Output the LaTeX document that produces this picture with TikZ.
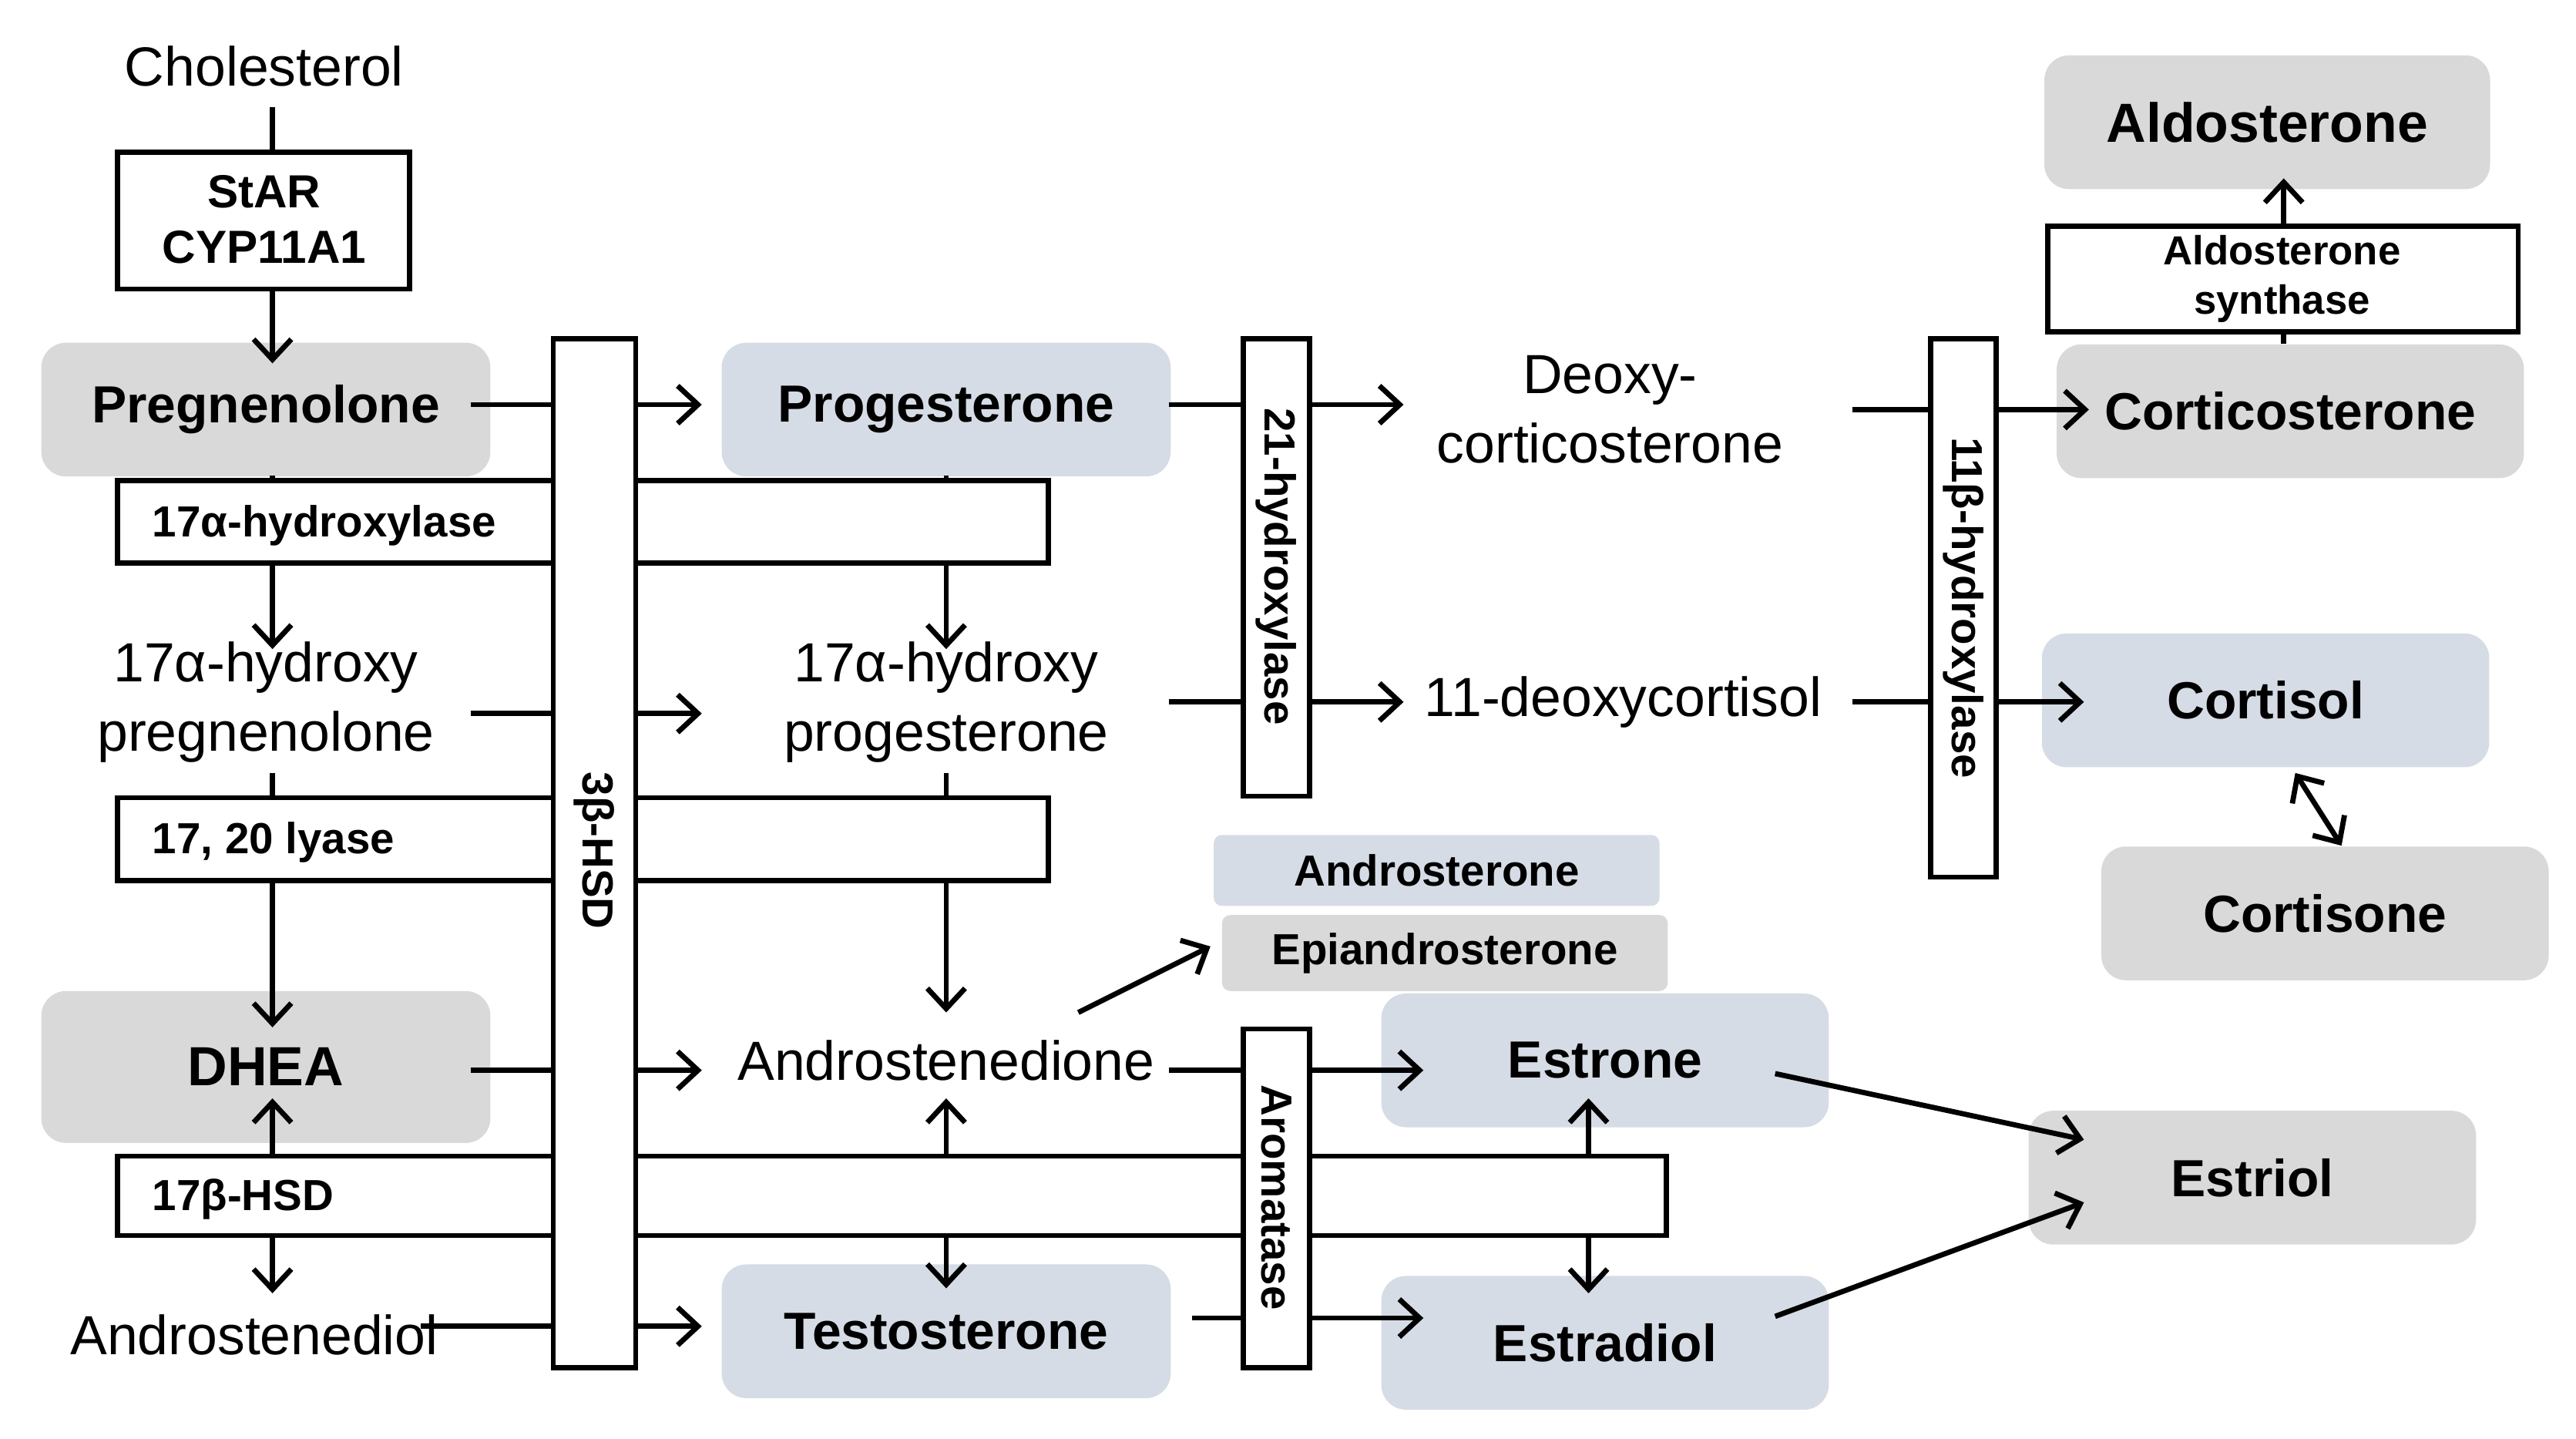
\documentclass[tikz,border=0pt]{standalone}
\usepackage{fontspec}
\setmainfont{Liberation Sans}
\usetikzlibrary{arrows.meta}
\definecolor{gfill}{RGB}{217,217,217}
\definecolor{bfill}{RGB}{214,220,229}
\begin{document}
\begin{tikzpicture}[x=0.02cm,y=-0.02cm,
  lw/.style={line width=1.8pt},
  arr/.style={lw,-{Straight Barb[length=7pt,width=13pt,line width=1.8pt]}},
  arr2/.style={lw,{Straight Barb[length=7pt,width=13pt,line width=1.8pt]}-{Straight Barb[length=7pt,width=13pt,line width=1.8pt]}},
  sbox/.style={rounded corners=0.3cm,inner sep=0,font=\fontsize{18}{20}\bfseries\selectfont,minimum width=5.44cm,minimum height=1.62cm},
  gbox/.style={sbox,fill=gfill},
  bbox/.style={sbox,fill=bfill},
  txt/.style={font=\fontsize{19}{24}\selectfont,align=center,inner sep=2pt},
  ebox/.style={draw,lw,fill=white,inner sep=0},
  elab/.style={font=\fontsize{15}{17}\bfseries\selectfont,inner sep=0},
]
\useasboundingbox (0,0) rectangle (1560,871);
% big colored boxes
\node[gbox] (preg) at (161,248) {Pregnenolone};
\node[bbox] (prog) at (573,248) {Progesterone};
\node[gbox,minimum width=5.66cm] (cortico) at (1387,249) {Corticosterone};
\node[gbox,minimum width=5.4cm] (aldo) at (1373,74) {\fontsize{19}{21}\bfseries\selectfont Aldosterone};
\node[bbox,minimum width=5.42cm] (cortisol) at (1372,424) {Cortisol};
\node[gbox,minimum width=5.42cm] (cortisone) at (1408,553) {Cortisone};
\node[bbox,minimum width=5.4cm,minimum height=0.86cm,rounded corners=0.1cm,font=\fontsize{15}{17}\bfseries\selectfont] (andro) at (870,527) {Androsterone};
\node[gbox,minimum width=5.4cm,minimum height=0.92cm,rounded corners=0.1cm,font=\fontsize{15}{17}\bfseries\selectfont] (epi) at (875,577) {Epiandrosterone};
\node[gbox,minimum height=1.84cm] (dhea) at (161,646) {\fontsize{19}{21}\bfseries\selectfont DHEA};
\node[bbox,minimum width=5.42cm] (estrone) at (972,642) {Estrone};
\node[gbox,minimum width=5.42cm] (estriol) at (1364,713) {Estriol};
\node[bbox] (testo) at (573,806) {Testosterone};
\node[bbox,minimum width=5.42cm] (estradiol) at (972,813) {Estradiol};
% texts
\node[txt] (chol) at (160,40) {Cholesterol};
\node[txt] (deoxy) at (975,248) {Deoxy-\\corticosterone};
\node[txt] (hpreg) at (161,425) {17α-hydroxy\\pregnenolone};
\node[txt] (hprog) at (573,425) {17α-hydroxy\\progesterone};
\node[txt] (dcort) at (983,425) {11-deoxycortisol};
\node[txt] (adione) at (573,642) {Androstenedione};
\node[txt] (adiol) at (154,808) {Androstenediol};
% enzyme boxes (horizontal)
\draw[ebox] (71,92) rectangle (248,175);
\node[elab,align=center,font=\fontsize{16}{19}\bfseries\selectfont] (star) at (160,133) {StAR\\CYP11A1};
\draw[ebox] (71,291) rectangle (635,341);
\node[elab,anchor=west] (h17) at (92,318) {17α-hydroxylase};
\draw[ebox] (71,483) rectangle (635,533);
\node[elab,anchor=west] (lyase) at (92,510) {17, 20 lyase};
\draw[ebox] (71,700) rectangle (1009,748);
\node[elab,anchor=west] (bhsd) at (92,726) {17β-HSD};
\draw[ebox] (1240,137) rectangle (1525,201);
\node[elab,align=center,font=\fontsize{14}{17}\bfseries\selectfont] (asyn) at (1382,169) {Aldosterone\\synthase};
% vertical enzyme boxes
\draw[ebox] (335,205) rectangle (385,828);
\node[elab,rotate=-90] (hsd) at (360,515) {3β-HSD};
\draw[ebox] (753,205) rectangle (793,482);
\node[elab,rotate=-90] (h21) at (773,343) {21-hydroxylase};
\draw[ebox] (1169,205) rectangle (1209,531);
\node[elab,rotate=-90] (h11) at (1189,368) {11β-hydroxylase};
\draw[ebox] (753,623) rectangle (793,828);
\node[elab,rotate=-90] (arom) at (773,725) {Aromatase};
% connectors
\draw[lw] (165,65) -- (165,92);
\draw[arr] (165,175) -- (165,220);
\draw[lw] (285,245) -- (335,245); \draw[arr] (385,245) -- (425,245);
\draw[lw] (708,245) -- (753,245); \draw[arr] (793,245) -- (850,245);
\draw[lw] (1122,248) -- (1169,248); \draw[arr] (1209,248) -- (1265,248);
\draw[lw] (1383,208) -- (1383,201); \draw[arr] (1383,137) -- (1383,108);
\draw[lw] (165,288) -- (165,291); \draw[arr] (165,341) -- (165,393);
\draw[lw] (573,288) -- (573,291); \draw[arr] (573,341) -- (573,393);
\draw[lw] (285,432) -- (335,432); \draw[arr] (385,432) -- (425,432);
\draw[lw] (708,425) -- (753,425); \draw[arr] (793,425) -- (850,425);
\draw[lw] (1122,425) -- (1169,425); \draw[arr] (1209,425) -- (1262,425);
\draw[arr2] (1390,468) -- (1418,512);
\draw[lw] (165,468) -- (165,483); \draw[arr] (165,533) -- (165,622);
\draw[lw] (573,468) -- (573,483); \draw[arr] (573,533) -- (573,613);
\draw[arr] (653,613) -- (733,573);
\draw[lw] (285,648) -- (335,648); \draw[arr] (385,648) -- (425,648);
\draw[lw] (708,648) -- (753,648); \draw[arr] (793,648) -- (862,648);
\draw[arr] (1075,650) -- (1262,690);
\draw[arr] (1075,797) -- (1262,728);
\draw[arr] (165,700) -- (165,665); \draw[arr] (165,748) -- (165,783);
\draw[arr] (573,700) -- (573,665); \draw[arr] (573,748) -- (573,780);
\draw[arr] (962,700) -- (962,665); \draw[arr] (962,748) -- (962,783);
\draw[lw] (255,803) -- (335,803); \draw[arr] (385,803) -- (425,803);
\draw[lw] (722,798) -- (753,798); \draw[arr] (793,798) -- (862,798);
\end{tikzpicture}
\end{document}
